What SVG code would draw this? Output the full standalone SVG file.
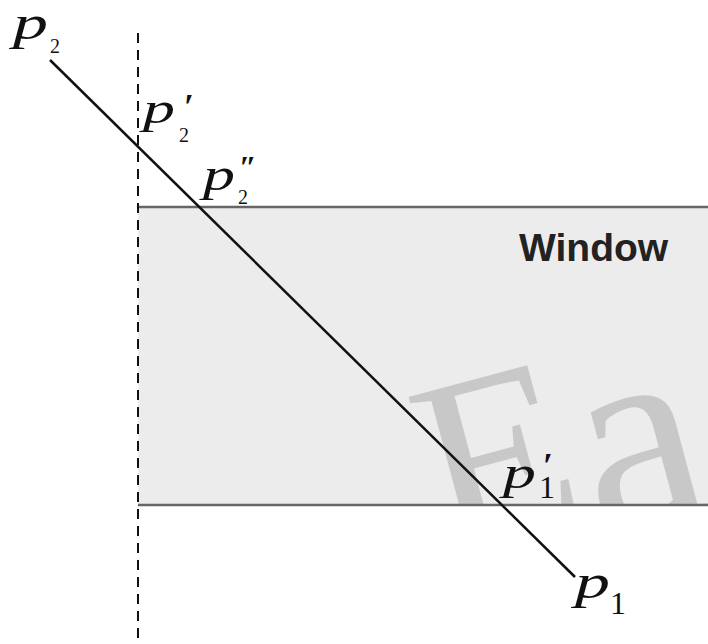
<svg xmlns="http://www.w3.org/2000/svg" width="708" height="644" viewBox="0 0 708 644">
<style>
.edge{fill:none;stroke:#666;stroke-width:2.5}
</style>
<defs>
<clipPath id="win"><rect x="138" y="207" width="570" height="298"/></clipPath>
</defs>
<rect width="708" height="644" fill="#fff"/>
<g id="window">
<rect x="138" y="207" width="570" height="298" fill="#ececec"/>
<g clip-path="url(#win)">
<text transform="translate(444,557) rotate(-15)" font-family="Liberation Serif, serif" font-size="250" fill="#c8c8c8">E<tspan dx="2" dy="24" font-size="278">a</tspan></text>
</g>
<line class="edge" x1="138" y1="207" x2="708" y2="207"/>
<line class="edge" x1="138" y1="505" x2="708" y2="505"/>
<text x="519" y="261" font-family="Liberation Sans, Arial, sans-serif" font-weight="bold" font-size="39" fill="#222">Window</text>
</g>
<g id="connectors">
<line x1="138" y1="33" x2="138" y2="644" stroke="#111" stroke-width="2" stroke-dasharray="10,7"/>
<line x1="50" y1="60" x2="575" y2="577" stroke="#111" stroke-width="2.5"/>
</g>
<g id="p2" font-family="Liberation Serif, serif" fill="#111">
<text x="13" y="39" font-size="48" font-style="italic" textLength="35" lengthAdjust="spacingAndGlyphs">p</text>
<text x="50" y="53" font-size="20">2</text>
</g>
<g id="p2prime" font-family="Liberation Serif, serif" fill="#111">
<text x="143" y="123" font-size="44" font-style="italic" textLength="32" lengthAdjust="spacingAndGlyphs">p</text>
<text x="179" y="142" font-size="20">2</text>
<text x="184" y="119" font-size="36" font-weight="bold">′</text>
</g>
<g id="p2dprime" font-family="Liberation Serif, serif" fill="#111">
<text x="203" y="190" font-size="46" font-style="italic" textLength="32" lengthAdjust="spacingAndGlyphs">p</text>
<text x="238" y="204" font-size="20">2</text>
<text x="239" y="178" font-size="32" font-weight="bold">″</text>
</g>
<g id="p1prime" font-family="Liberation Serif, serif" fill="#111">
<text x="503" y="488" font-size="46" font-style="italic" textLength="33" lengthAdjust="spacingAndGlyphs">p</text>
<text x="539" y="498" font-size="32">1</text>
<text x="543" y="478" font-size="36" font-weight="bold">′</text>
</g>
<g id="p1" font-family="Liberation Serif, serif" fill="#111">
<text x="575" y="598" font-size="48" font-style="italic" textLength="35" lengthAdjust="spacingAndGlyphs">p</text>
<text x="610" y="614" font-size="32">1</text>
</g>
</svg>
